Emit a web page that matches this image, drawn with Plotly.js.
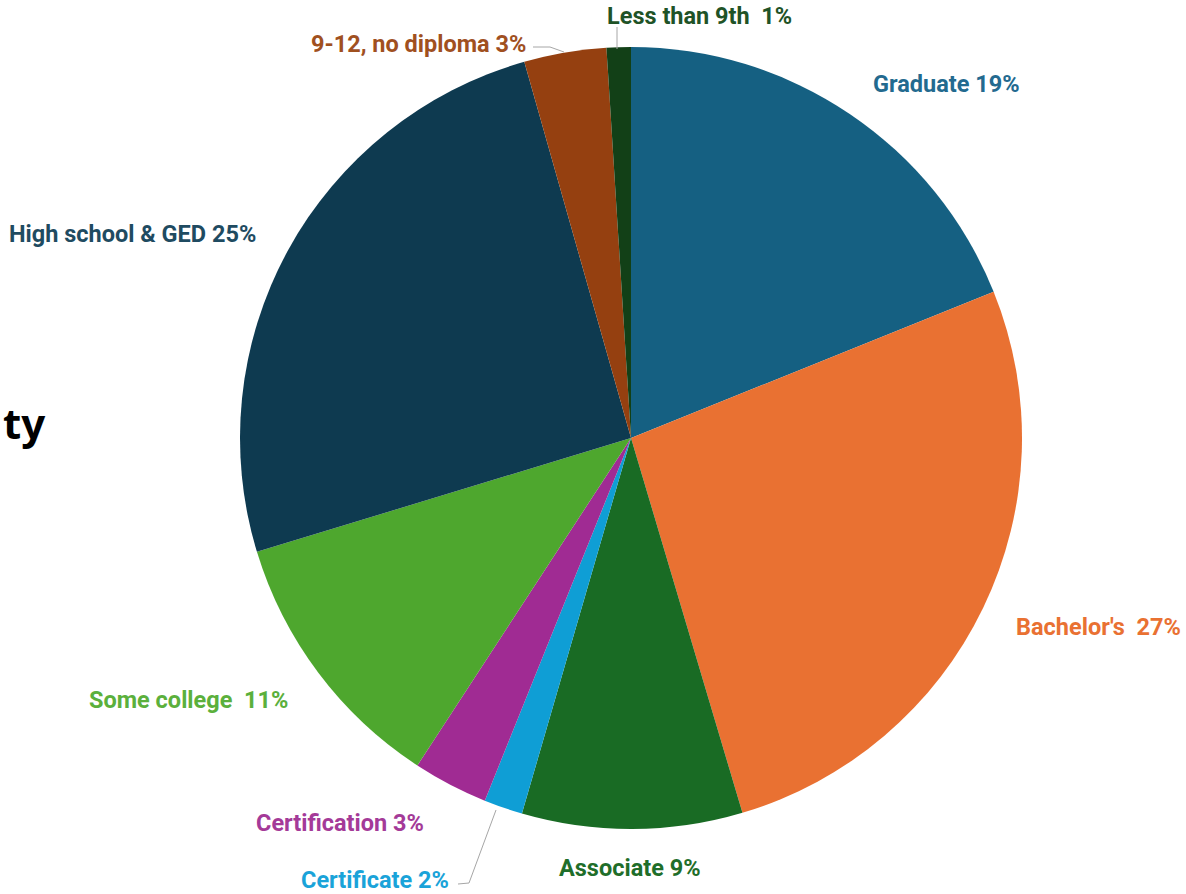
<!DOCTYPE html>
<html>
<head>
<meta charset="utf-8">
<script src="https://cdn.plot.ly/plotly-3.0.1.min.js"></script>
<style>html,body{margin:0;padding:0;background:#fff;}#chart{width:1186px;height:894px;}</style>
</head>
<body>
<div id="chart"></div>
<script>
// Data
var categories = ["Graduate", "Bachelor's", "Associate", "Certificate", "Certification", "Some college", "High school & GED", "9-12, no diploma", "Less than 9th"];
var shares = [18.9, 26.5, 9.1, 1.6, 3.1, 11.1, 25.3, 3.4, 1.0];
var labelText = ["Graduate 19%", "Bachelor's  27%", "Associate 9%", "Certificate 2%", "Certification 3%", "Some college  11%", "High school & GED 25%", "9-12, no diploma 3%", "Less than 9th  1%"];

// Styles / layout (pixel positions of label centres)
var sliceColors = ["#156082", "#e97132", "#196b24", "#0f9ed5", "#a02b93", "#4ea72e", "#0e3a50", "#954010", "#124017"];
var textColors = ["#236a8f", "#e97132", "#1f6e2a", "#1aa3d9", "#a43a98", "#5bb03c", "#1f4b61", "#a0501f", "#1f5327"];
var labelPx = [[946, 84], [1098, 627], [630, 868], [375, 880], [340, 823], [188, 700], [132, 234], [418, 44], [699, 16]];

var W = 1186, H = 894;
function px(x) { return x / W; }
function py(y) { return 1 - y / H; }

var cx = 631, cy = 438, r = 391;

var annotations = categories.map(function (c, i) {
  return {
    text: labelText[i], x: px(labelPx[i][0]), y: py(labelPx[i][1]),
    xref: 'paper', yref: 'paper', xanchor: 'center', yanchor: 'middle',
    showarrow: false,
    font: { family: 'Roboto, sans-serif', size: 23.5, color: textColors[i], weight: 'bold' }
  };
});
annotations.push({
  text: 'ty', x: px(47), y: py(422), xref: 'paper', yref: 'paper',
  xanchor: 'right', yanchor: 'middle', showarrow: false,
  font: { family: 'Noto Sans, sans-serif', size: 42, color: '#000000', weight: 'bold' }
});

var lineStyle = { color: '#a6a6a6', width: 1 };
function seg(x0, y0, x1, y1) {
  return { type: 'line', xref: 'paper', yref: 'paper', x0: px(x0), y0: py(y0), x1: px(x1), y1: py(y1), line: lineStyle };
}
var shapes = [
  seg(617, 27, 617, 49),
  seg(533, 47, 550, 47), seg(550, 47, 564, 52),
  seg(458, 884, 469, 883), seg(469, 883, 496, 810)
];

var trace = {
  type: 'pie',
  labels: categories,
  values: shares,
  sort: false,
  direction: 'clockwise',
  rotation: 0,
  textinfo: 'none',
  hoverinfo: 'label+percent',
  marker: { colors: sliceColors, line: { width: 0 } },
  domain: { x: [px(cx - r), px(cx + r)], y: [py(cy + r), py(cy - r)] },
  showlegend: false
};

var layout = {
  width: W, height: H,
  margin: { l: 0, r: 0, t: 0, b: 0 },
  paper_bgcolor: '#ffffff',
  showlegend: false,
  annotations: annotations,
  shapes: shapes
};

Plotly.newPlot('chart', [trace], layout, { displayModeBar: false, staticPlot: true });
</script>
</body>
</html>
